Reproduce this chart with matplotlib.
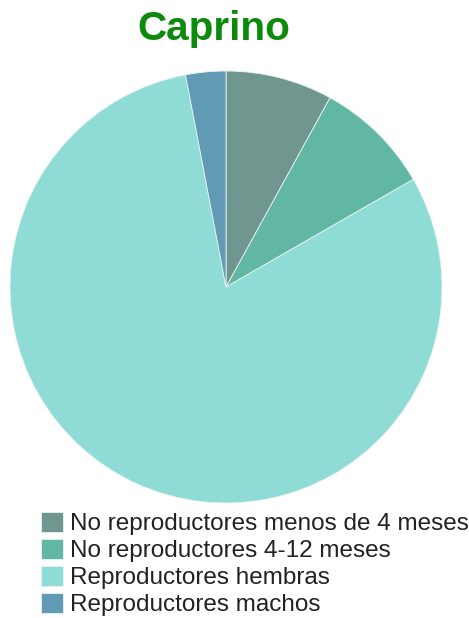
import matplotlib
matplotlib.use("Agg")
import matplotlib.pyplot as plt

categories = ["No reproductores menos de 4 meses", "No reproductores 4-12 meses",
              "Reproductores hembras", "Reproductores machos"]
values = [8.0, 8.7, 80.3, 3.0]
colors = ["#6f968f", "#62b6a4", "#8fdbd6", "#609ab5"]
title = "Caprino"

plt.rcParams['font.family'] = ['Liberation Sans', 'DejaVu Sans']
W, H = 469, 618
fig = plt.figure(figsize=(W / 100, H / 100), dpi=100)

cx, cy, r = 226, 287, 216
ax = fig.add_axes([(cx - r) / W, (H - cy - r) / H, 2 * r / W, 2 * r / H])
wedges, _ = ax.pie(values, colors=colors, startangle=90, counterclock=False, radius=1,
                   wedgeprops=dict(edgecolor="#e8f4f2", linewidth=0.6))
ax.set_xlim(-1, 1)
ax.set_ylim(-1, 1)
ax.set_aspect('equal')
ax.axis('off')

fig.text(213.5 / W, 1 - 29 / H, title, ha='center', va='center', fontsize=29.2,
         fontweight='bold', color='#0b8a0b')

fig.legend(wedges, categories, loc='upper left', bbox_to_anchor=(41 / W, 1 - 512 / H),
           frameon=False, fontsize=17.5, handlelength=0.9, handleheight=0.9,
           handletextpad=0.28, labelspacing=0.14, borderpad=0, borderaxespad=0,
           labelcolor='#222222')

fig.savefig("out.png", dpi=100)
